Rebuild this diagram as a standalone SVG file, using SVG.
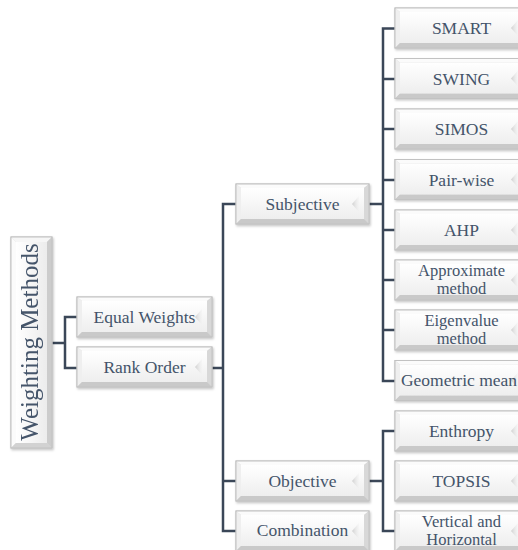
<svg xmlns="http://www.w3.org/2000/svg" xmlns:xlink="http://www.w3.org/1999/xlink" width="518" height="550" viewBox="0 0 518 550">
  <style>
    .label { font-family: "Liberation Serif", "Times New Roman", serif; font-size: 17.5px; fill: #44546a; text-anchor: middle; }
    .label2 { font-size: 16.5px; }
    .title { font-family: "Liberation Serif", "Times New Roman", serif; font-size: 25px; fill: #44546a; text-anchor: middle; }
    .wire { fill: none; stroke: #3b4758; stroke-width: 2.5; stroke-linejoin: miter; }
    .shadowed { filter: url(#soft); }
  </style>
  <defs>
    <filter id="soft" x="-10%" y="-20%" width="120%" height="150%">
      <feDropShadow dx="1" dy="1.5" stdDeviation="1" flood-color="#000" flood-opacity="0.22"/>
    </filter>
    <linearGradient id="face" x1="0" y1="0" x2="0" y2="1">
      <stop offset="0" stop-color="#ffffff"/>
      <stop offset="1" stop-color="#eeeeee"/>
    </linearGradient>
    <linearGradient id="faceH" x1="0" y1="0" x2="1" y2="0">
      <stop offset="0" stop-color="#ffffff"/>
      <stop offset="1" stop-color="#ececec"/>
    </linearGradient>
    <linearGradient id="notchFill" x1="0" y1="0" x2="1" y2="0">
      <stop offset="0" stop-color="#cfcfcf"/>
      <stop offset="1" stop-color="#f2f2f2" stop-opacity="0.4"/>
    </linearGradient>
    <!-- bevelled tile, 133 x 40 -->
    <g id="tile133">
      <rect x="0" y="0" width="133" height="40" fill="#d9d9d9" stroke="#c2c2c2" stroke-width="1"/>
      <polygon points="0,0 133,0 128,4 5,4" fill="#fbfbfb"/>
      <polygon points="0,0 5,4 5,35 0,40" fill="#efefef"/>
      <polygon points="133,0 133,40 128,35 128,4" fill="#d8d8d8"/>
      <polygon points="0,40 5,35 128,35 133,40" fill="#c9c9c9"/>
      <rect x="5" y="4" width="123" height="31" fill="url(#face)"/>
      <polygon points="123,12 116,20 123,28" fill="url(#notchFill)"/>
      <rect x="0" y="0" width="133" height="40" fill="none" stroke="#c2c2c2" stroke-width="1"/>
    </g>
    <!-- bevelled tile, 135 x 40 -->
    <g id="tile135">
      <rect x="0" y="0" width="135" height="40" fill="#d9d9d9" stroke="#c2c2c2" stroke-width="1"/>
      <polygon points="0,0 135,0 130,4 5,4" fill="#fbfbfb"/>
      <polygon points="0,0 5,4 5,35 0,40" fill="#efefef"/>
      <polygon points="135,0 135,40 130,35 130,4" fill="#d8d8d8"/>
      <polygon points="0,40 5,35 130,35 135,40" fill="#c9c9c9"/>
      <rect x="5" y="4" width="125" height="31" fill="url(#face)"/>
      <polygon points="125,12 118,20 125,28" fill="url(#notchFill)"/>
      <rect x="0" y="0" width="135" height="40" fill="none" stroke="#c2c2c2" stroke-width="1"/>
    </g>
  </defs>

  <!-- connectors -->
  <g id="connectors">
    <path class="wire" d="M52,343 H65 M77,317 H65 V368 H77"/>
    <path class="wire" d="M212,368 H223 M236,204 H223 V531 H236 M223,481 H236"/>
    <path class="wire" d="M369,204 H383 M395,28.5 H383 V381 H395 M383,79 H395 M383,129 H395 M383,180 H395 M383,230 H395 M383,280 H395 M383,330 H395"/>
    <path class="wire" d="M369,481 H383 M395,431 H383 V531 H395"/>
  </g>

  <!-- root -->
  <g id="root" class="shadowed">
    <rect x="11" y="237" width="41" height="211" fill="#d9d9d9" stroke="#c2c2c2"/>
    <polygon points="11,237 52,237 47,242 16,242" fill="#f6f6f6"/>
    <polygon points="11,237 16,242 16,443 11,448" fill="#fbfbfb"/>
    <polygon points="52,237 52,448 47,443 47,242" fill="#cccccc"/>
    <polygon points="11,448 16,443 47,443 52,448" fill="#d2d2d2"/>
    <rect x="16" y="242" width="31" height="201" fill="url(#faceH)"/>
    <rect x="11" y="237" width="41" height="211" fill="none" stroke="#c2c2c2"/>
    <text class="title" transform="translate(38,342) rotate(-90)">Weighting Methods</text>
  </g>

  <!-- first level -->
  <g id="equal-weights">
    <use href="#tile135" x="77" y="297" class="shadowed"/>
    <text class="label" x="144.5" y="323">Equal Weights</text>
  </g>
  <g id="rank-order">
    <use href="#tile135" x="77" y="347" class="shadowed"/>
    <text class="label" x="144.5" y="373">Rank Order</text>
  </g>

  <!-- second level -->
  <g id="subjective">
    <use href="#tile133" x="236" y="184" class="shadowed"/>
    <text class="label" x="302.5" y="210">Subjective</text>
  </g>
  <g id="objective">
    <use href="#tile133" x="236" y="461" class="shadowed"/>
    <text class="label" x="302.5" y="487">Objective</text>
  </g>
  <g id="combination">
    <use href="#tile133" x="236" y="511" class="shadowed"/>
    <text class="label" x="302.5" y="536">Combination</text>
  </g>

  <!-- subjective methods -->
  <g id="smart">
    <use href="#tile133" x="395" y="8" class="shadowed"/>
    <text class="label" x="461.5" y="34">SMART</text>
  </g>
  <g id="swing">
    <use href="#tile133" x="395" y="58.5" class="shadowed"/>
    <text class="label" x="461.5" y="84.5">SWING</text>
  </g>
  <g id="simos">
    <use href="#tile133" x="395" y="109" class="shadowed"/>
    <text class="label" x="461.5" y="135">SIMOS</text>
  </g>
  <g id="pair-wise">
    <use href="#tile133" x="395" y="159.5" class="shadowed"/>
    <text class="label" x="461.5" y="185.5">Pair-wise</text>
  </g>
  <g id="ahp">
    <use href="#tile133" x="395" y="210" class="shadowed"/>
    <text class="label" x="461.5" y="236">AHP</text>
  </g>
  <g id="approximate">
    <use href="#tile133" x="395" y="260" class="shadowed"/>
    <text class="label label2" x="461.5" y="275.5">Approximate</text>
    <text class="label label2" x="461.5" y="294">method</text>
  </g>
  <g id="eigenvalue">
    <use href="#tile133" x="395" y="310" class="shadowed"/>
    <text class="label label2" x="461.5" y="325.5">Eigenvalue</text>
    <text class="label label2" x="461.5" y="344">method</text>
  </g>
  <g id="geometric-mean">
    <use href="#tile133" x="395" y="360.5" class="shadowed"/>
    <text class="label" x="459" y="386">Geometric mean</text>
  </g>

  <!-- objective methods -->
  <g id="enthropy">
    <use href="#tile133" x="395" y="411" class="shadowed"/>
    <text class="label" x="461.5" y="437">Enthropy</text>
  </g>
  <g id="topsis">
    <use href="#tile133" x="395" y="461" class="shadowed"/>
    <text class="label" x="461.5" y="487">TOPSIS</text>
  </g>
  <g id="vertical-horizontal">
    <use href="#tile133" x="395" y="511" class="shadowed"/>
    <text class="label label2" x="461.5" y="526.5">Vertical and</text>
    <text class="label label2" x="461.5" y="545">Horizontal</text>
  </g>
</svg>
